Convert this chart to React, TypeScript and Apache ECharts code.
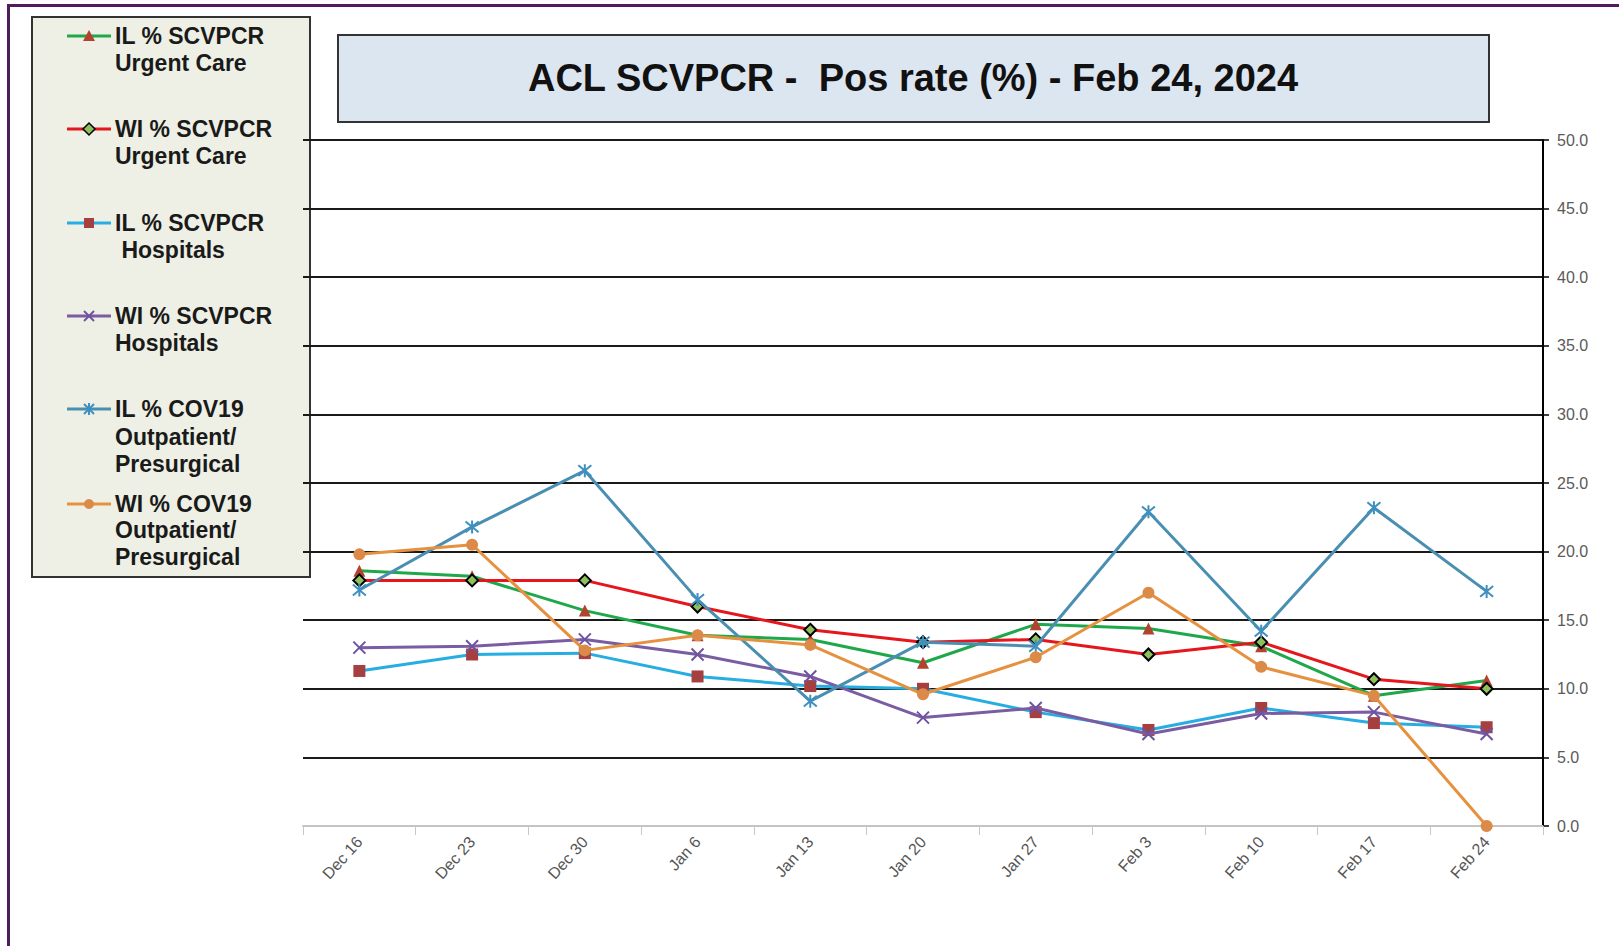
import React, { useEffect, useRef } from "react";
import * as echarts from "echarts";

const categories = ["Dec 16", "Dec 23", "Dec 30", "Jan 6", "Jan 13", "Jan 20", "Jan 27", "Feb 3", "Feb 10", "Feb 17", "Feb 24"];
const yTicks = { min: 0, max: 50, interval: 5 };

const ilUrgentCare = [18.6, 18.2, 15.7, 13.9, 13.6, 11.9, 14.7, 14.4, 13.1, 9.5, 10.6];
const wiUrgentCare = [17.9, 17.9, 17.9, 16.0, 14.3, 13.4, 13.6, 12.5, 13.4, 10.7, 10.0];
const ilHospitals = [11.3, 12.5, 12.6, 10.9, 10.2, 10.0, 8.3, 7.0, 8.6, 7.5, 7.2];
const wiHospitals = [13.0, 13.1, 13.6, 12.5, 10.9, 7.9, 8.6, 6.7, 8.2, 8.3, 6.7];
const ilCov19 = [17.2, 21.8, 25.9, 16.5, 9.1, 13.4, 13.1, 22.9, 14.2, 23.2, 17.1];
const wiCov19 = [19.8, 20.5, 12.8, 13.9, 13.2, 9.6, 12.3, 17.0, 11.6, 9.5, 0.0];

const seriesNames = [
  "IL % SCVPCR Urgent Care",
  "WI % SCVPCR Urgent Care",
  "IL % SCVPCR Hospitals",
  "WI % SCVPCR Hospitals",
  "IL % COV19 Outpatient/Presurgical",
  "WI % COV19 Outpatient/Presurgical",
];
const legendLines = [
  ["IL % SCVPCR", "Urgent Care"],
  ["WI % SCVPCR", "Urgent Care"],
  ["IL % SCVPCR", " Hospitals"],
  ["WI % SCVPCR", "Hospitals"],
  ["IL % COV19", "Outpatient/", "Presurgical"],
  ["WI % COV19", "Outpatient/", "Presurgical"],
];
const titleText = "ACL SCVPCR -  Pos rate (%) - Feb 24, 2024";

const X_PATH = "path://M0,0L10,10M10,0L0,10";
const STAR_PATH = "path://M0,0L10,10M10,0L0,10M5,-1L5,11";

export default function App() {
  const ref = useRef<HTMLDivElement>(null);

  useEffect(() => {
    if (!ref.current) return;
    const chart = echarts.init(ref.current, undefined, { renderer: "svg" });

    const seriesData = [ilUrgentCare, wiUrgentCare, ilHospitals, wiHospitals, ilCov19, wiCov19];
    const lineColors = ["#1fa84a", "#e5161c", "#26aee2", "#7a5ca2", "#4a8fb2", "#e5913f"];
    const symbols = ["triangle", "diamond", "rect", X_PATH, STAR_PATH, "circle"];
    const symbolSizes = [12, 12, 12, 12, 13, 12];
    const itemStyles: any[] = [
      { color: "#b2432f", borderWidth: 0 },
      { color: "#8fc05c", borderColor: "#000", borderWidth: 2 },
      { color: "#a63f3f", borderWidth: 0 },
      { color: "none", borderColor: "#6f52a0", borderWidth: 2 },
      { color: "none", borderColor: "#3f8fbf", borderWidth: 2 },
      { color: "#dc8a48", borderWidth: 0 },
    ];

    const series = seriesData.map((d, i) => ({
      name: seriesNames[i],
      type: "line",
      data: d,
      symbol: symbols[i],
      symbolSize: symbolSizes[i],
      showAllSymbol: true,
      lineStyle: { color: lineColors[i], width: 3 },
      itemStyle: itemStyles[i],
      z: 2 + i,
    }));

    const legendCenters = [
      [36, 63],
      [129, 156],
      [223, 250],
      [316, 343],
      [409, 437, 464],
      [504, 530, 557],
    ];
    const mx = 89;
    const legendEls: any[] = [
      {
        type: "rect",
        shape: { x: 32, y: 17, width: 278, height: 560 },
        style: { fill: "#eef0e5", stroke: "#333", lineWidth: 2 },
      },
    ];
    const markerFor = (i: number, ly: number): any[] => {
      const c = itemStyles[i];
      switch (i) {
        case 0:
          return [{ type: "polygon", shape: { points: [[mx, ly - 6], [mx + 6, ly + 5], [mx - 6, ly + 5]] }, style: { fill: c.color } }];
        case 1:
          return [{ type: "polygon", shape: { points: [[mx, ly - 6], [mx + 6, ly], [mx, ly + 6], [mx - 6, ly]] }, style: { fill: c.color, stroke: "#000", lineWidth: 1.5 } }];
        case 2:
          return [{ type: "rect", shape: { x: mx - 5, y: ly - 5, width: 10, height: 10 }, style: { fill: c.color } }];
        case 3:
          return [
            { type: "line", shape: { x1: mx - 5, y1: ly - 5, x2: mx + 5, y2: ly + 5 }, style: { stroke: c.borderColor, lineWidth: 2 } },
            { type: "line", shape: { x1: mx + 5, y1: ly - 5, x2: mx - 5, y2: ly + 5 }, style: { stroke: c.borderColor, lineWidth: 2 } },
          ];
        case 4:
          return [
            { type: "line", shape: { x1: mx - 5, y1: ly - 5, x2: mx + 5, y2: ly + 5 }, style: { stroke: c.borderColor, lineWidth: 2 } },
            { type: "line", shape: { x1: mx + 5, y1: ly - 5, x2: mx - 5, y2: ly + 5 }, style: { stroke: c.borderColor, lineWidth: 2 } },
            { type: "line", shape: { x1: mx, y1: ly - 6, x2: mx, y2: ly + 6 }, style: { stroke: c.borderColor, lineWidth: 2 } },
          ];
        default:
          return [{ type: "circle", shape: { cx: mx, cy: ly, r: 5 }, style: { fill: c.color } }];
      }
    };
    legendLines.forEach((lines, i) => {
      const ys = legendCenters[i];
      legendEls.push({
        type: "line",
        shape: { x1: 67, y1: ys[0], x2: 111, y2: ys[0] },
        style: { stroke: lineColors[i], lineWidth: 3 },
      });
      legendEls.push(...markerFor(i, ys[0]));
      lines.forEach((t, j) => {
        legendEls.push({
          type: "text",
          x: 115,
          y: ys[j],
          style: {
            text: t,
            fill: "#1a1a1a",
            font: 'bold 23px "Liberation Sans", Arial, sans-serif',
            textAlign: "left",
            textVerticalAlign: "middle",
          },
        });
      });
    });

    const option: any = {
      animation: false,
      backgroundColor: "#ffffff",
      grid: { left: 303, top: 140, width: 1240, height: 686, containLabel: false },
      xAxis: {
        type: "category",
        data: categories,
        boundaryGap: true,
        axisLine: { show: true, lineStyle: { color: "#c4c4c4", width: 2 } },
        axisTick: { show: true, length: 9, lineStyle: { color: "#c8c8c8", width: 1 } },
        axisLabel: {
          rotate: 48,
          color: "#555",
          fontSize: 16,
          fontFamily: '"Liberation Sans", Arial, sans-serif',
          margin: 13,
          interval: 0,
        },
        splitLine: { show: false },
      },
      yAxis: {
        type: "value",
        position: "right",
        min: yTicks.min,
        max: yTicks.max,
        interval: yTicks.interval,
        axisLine: { show: true, lineStyle: { color: "#000", width: 2 } },
        axisTick: { show: true, inside: false, length: 6, lineStyle: { color: "#000", width: 1.5 } },
        axisLabel: {
          color: "#5a5a5a",
          fontSize: 16,
          fontFamily: '"Liberation Sans", Arial, sans-serif',
          margin: 14,
          formatter: (v: number) => v.toFixed(1),
        },
        splitLine: { show: true, showMinLine: false, lineStyle: { color: "#1a1a1a", width: 2 } },
      },
      series,
      graphic: [
        { type: "rect", z: 100, shape: { x: 7, y: 4, width: 1612, height: 3 }, style: { fill: "#4e1d5a" } },
        { type: "rect", z: 100, shape: { x: 7, y: 4, width: 3, height: 942 }, style: { fill: "#4e1d5a" } },
        {
          type: "rect",
          z: 100,
          shape: { x: 338, y: 35, width: 1151, height: 87 },
          style: { fill: "#dce6f1", stroke: "#333", lineWidth: 2 },
        },
        {
          type: "text",
          z: 101,
          x: 913,
          y: 78,
          style: {
            text: titleText,
            fill: "#111",
            font: 'bold 38px "Liberation Sans", Arial, sans-serif',
            textAlign: "center",
            textVerticalAlign: "middle",
          },
        },
        { type: "group", z: 100, children: legendEls },
      ],
    };

    chart.setOption(option);
    return () => chart.dispose();
  }, []);

  return (
    <div
      ref={ref}
      style={{ position: "fixed", left: 0, top: 0, width: 1619, height: 946, background: "#fff" }}
    />
  );
}
